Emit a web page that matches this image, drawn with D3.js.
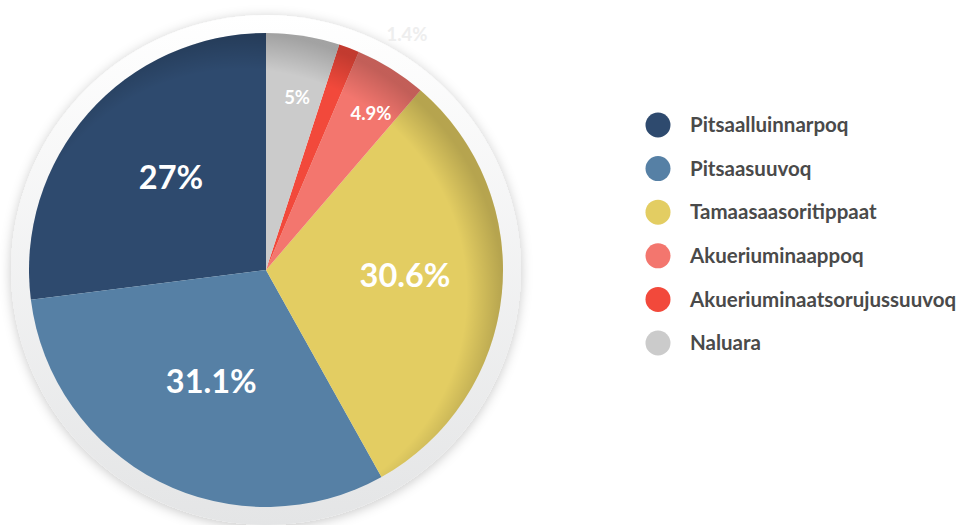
<!DOCTYPE html>
<html>
<head>
<meta charset="utf-8">
<script src="https://cdn.jsdelivr.net/npm/d3@7"></script>
<style>
  body { margin: 0; background: #fff; }
  svg { display: block; }
</style>
</head>
<body>
<svg id="chart" width="965" height="525"></svg>
<script>
// data, legend order
let categories = ["Pitsaalluinnarpoq", "Pitsaasuuvoq", "Tamaasaasoritippaat", "Akueriuminaappoq", "Akueriuminaatsorujussuuvoq", "Naluara"]
let values = [27, 31.1, 30.6, 4.9, 1.4, 5]
let labels = ["27%", "31.1%", "30.6%", "4.9%", "1.4%", "5%"]
let colors = ["#2e4a6e", "#5680a5", "#e3cd62", "#f3766e", "#f2493b", "#cbcbcb"]

let cx = 266, cy = 270, radius = 237

let svg = d3.select("#chart")
let defs = svg.append("defs")

let ringGrad = defs.append("linearGradient").attr("id", "ringGrad")
    .attr("x1", 0).attr("y1", 0).attr("x2", 0).attr("y2", 1)
ringGrad.append("stop").attr("offset", "0%").attr("stop-color", "#ffffff")
ringGrad.append("stop").attr("offset", "100%").attr("stop-color", "#e4e5e6")

let shadow = defs.append("filter").attr("id", "shadow")
    .attr("x", "-20%").attr("y", "-20%").attr("width", "140%").attr("height", "140%")
shadow.append("feDropShadow").attr("dx", 0).attr("dy", 2)
    .attr("stdDeviation", 6).attr("flood-color", "#000").attr("flood-opacity", 0.22)

let inner = defs.append("radialGradient").attr("id", "innerShade")
    .attr("cx", "45%").attr("cy", "55%").attr("r", "55%")
inner.append("stop").attr("offset", "86%").attr("stop-color", "#000").attr("stop-opacity", 0)
inner.append("stop").attr("offset", "100%").attr("stop-color", "#000").attr("stop-opacity", 0.2)

let g = svg.append("g").attr("transform", `translate(${cx},${cy})`)

// white ring behind the pie
g.append("circle")
    .attr("r", radius + 18)
    .attr("fill", "url(#ringGrad)")
    .attr("filter", "url(#shadow)")

// counterclockwise from 12 o'clock
let pie = d3.pie().sort(null).value(d => d.value)
    .startAngle(0).endAngle(-2 * Math.PI)
let arc = d3.arc().innerRadius(0).outerRadius(radius)

let data = categories.map((c, i) => ({ name: c, value: values[i], label: labels[i], color: colors[i] }))
let arcs = pie(data)

g.selectAll("path.slice")
    .data(arcs)
    .enter()
    .append("path")
    .attr("class", "slice")
    .attr("d", arc)
    .attr("fill", d => d.data.color)

g.append("circle")
    .attr("r", radius)
    .attr("fill", "url(#innerShade)")
    .style("pointer-events", "none")

// label placement: radius factor and angle nudge (radians) per slice
let labelPos = {
    "Pitsaalluinnarpoq": [0.561, 0.052],
    "Pitsaasuuvoq": [0.522, -0.01],
    "Tamaasaasoritippaat": [0.587, -0.065],
    "Akueriuminaappoq": [0.797, 0.033],
    "Akueriuminaatsorujussuuvoq": [1.16, 0.18],
    "Naluara": [0.74, 0.021]
}

g.selectAll("text.pct")
    .data(arcs)
    .enter()
    .append("text")
    .attr("class", "pct")
    .attr("transform", d => {
        let p = labelPos[d.data.name]
        let r = radius * p[0]
        let a = (d.startAngle + d.endAngle) / 2 + p[1]
        return `translate(${r * Math.sin(a)},${-r * Math.cos(a)})`
    })
    .attr("text-anchor", "middle")
    .attr("dy", "0.36em")
    .attr("fill", d => d.data.value < 2 ? "#eeeeee" : "#ffffff")
    .style("font-family", "Lato, 'Open Sans', sans-serif")
    .style("font-weight", "bold")
    .style("font-size", d => d.data.value < 6 ? "18.5px" : "32.5px")
    .text(d => d.data.label)

// legend
let legend = svg.append("g").attr("transform", "translate(658,125)")
let item = legend.selectAll("g")
    .data(data)
    .enter()
    .append("g")
    .attr("transform", (d, i) => `translate(0,${i * 43.6})`)

item.append("circle")
    .attr("r", 12.5)
    .attr("fill", d => d.color)

item.append("text")
    .attr("x", 32)
    .attr("dy", "0.35em")
    .attr("fill", "#4a4a4a")
    .style("font-family", "Lato, 'Open Sans', sans-serif")
    .style("font-weight", "bold")
    .style("font-size", "20.5px")
    .text(d => d.name)
</script>
</body>
</html>
